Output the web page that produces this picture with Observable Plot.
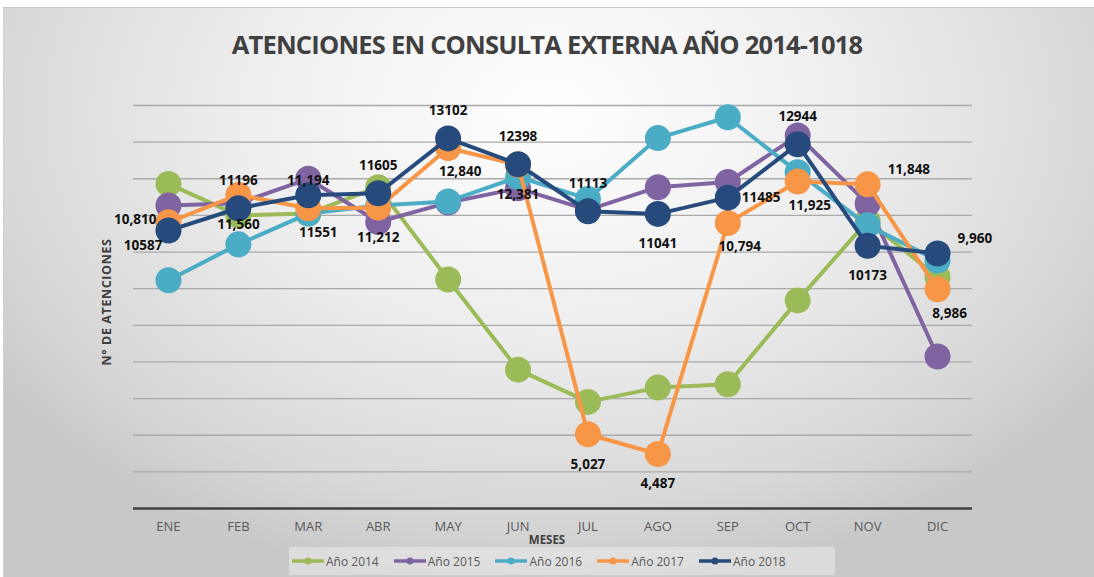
<!DOCTYPE html>
<html><head><meta charset="utf-8">
<script src="https://cdn.jsdelivr.net/npm/d3@7"></script>
<script src="https://cdn.jsdelivr.net/npm/@observablehq/plot@0.6"></script>
<style>
html,body{margin:0;padding:0;background:#ffffff;}
body{width:1094px;height:577px;overflow:hidden;font-family:"Open Sans",sans-serif;}
#wrap{position:relative;width:1094px;height:577px;}
#bg{position:absolute;left:3px;top:7px;right:0;bottom:0;border-top:1px solid #c8c8c8;border-left:1px solid #d0d0d0;
 background:radial-gradient(ellipse 62% 85% at 50% 18%, #ffffff 0%, #eeeeee 45%, #d8d8d8 82%, #c8c8c8 100%);}
#title{position:absolute;left:0;width:1094px;top:27px;text-align:center;font-weight:700;font-size:25.5px;color:#404040;letter-spacing:-0.8px;white-space:nowrap;}
#chart{position:absolute;left:0;top:0;}
#ylab{position:absolute;left:106px;top:302px;transform:translate(-50%,-50%) rotate(-90deg);font-weight:700;font-size:12.5px;letter-spacing:0.6px;color:#404040;white-space:nowrap;}
#xlab{position:absolute;left:547px;top:539px;transform:translate(-50%,-50%);font-weight:700;font-size:11.5px;color:#404040;}
#legend{position:absolute;left:289px;top:547px;width:546px;height:28px;background:rgba(255,255,255,0.35);display:flex;align-items:center;padding-left:3px;box-sizing:border-box;}
.item{display:flex;align-items:center;margin-right:15px;font-size:12px;color:#595959;}
.item svg{margin-right:2px;}
</style></head>
<body><div id="wrap">
<div id="bg"></div>
<div id="title">ATENCIONES EN CONSULTA EXTERNA AÑO 2014-1018</div>
<div id="chart"></div>
<div id="ylab">N° DE ATENCIONES</div>
<div id="xlab">MESES</div>
<div id="legend"></div>
</div>
<script>
const months = ["ENE","FEB","MAR","ABR","MAY","JUN","JUL","AGO","SEP","OCT","NOV","DIC"];
const series = ["Año 2014","Año 2015","Año 2016","Año 2017","Año 2018"];
const colors = ["#9bbb59","#8064a2","#4bacc6","#f79646","#264a7c"];
const v2014 = [11860, 11000, 11050, 11770, 9250, 6790, 5910, 6300, 6390, 8680, 10850, 9320];
const v2015 = [11270, 11330, 12000, 10820, 11350, 11740, 11150, 11770, 11910, 13180, 11320, 7150];
const v2016 = [9230, 10210, 11050, 11270, 11380, 12050, 11450, 13110, 13680, 12180, 10730, 9770];
const v2017 = [10810, 11560, 11194, 11212, 12840, 12381, 5027, 4487, 10794, 11925, 11848, 8986];
const v2018 = [10587, 11196, 11551, 11605, 13102, 12398, 11113, 11041, 11485, 12944, 10173, 9960];
const values = [v2014, v2015, v2016, v2017, v2018];
const gridTicks = [4000,5000,6000,7000,8000,9000,10000,11000,12000,13000,14000];
// label placement (side of the point) for the labelled series
const labelPos2017 = ["w","s","n","s","se","s","s","s","se","se","ne","se"];
const labelPos2018 = ["sw","n","sse","n","n","n","n","s","e","n","s","ne"];

const rows = series.map((s,k)=> months.map((m,i)=>({series:s, month:m, value:values[k][i]})));
const fmtComma = d3.format(",");
const labels = [
  ...months.map((m,i)=>({month:m, value:v2017[i], text:fmtComma(v2017[i]), pos:labelPos2017[i]})),
  ...months.map((m,i)=>({month:m, value:v2018[i], text:v2018[i] >= 10000 ? String(v2018[i]) : fmtComma(v2018[i]), pos:labelPos2018[i]}))
];
const offsets = {
  n:{dx:0,dy:-28,a:"middle"}, s:{dx:0,dy:30,a:"middle"}, se:{dx:12,dy:24,a:"middle"}, sse:{dx:10,dy:37,a:"middle"},
  e:{dx:14,dy:0,a:"start"}, ne:{dx:20,dy:-15,a:"start"}, w:{dx:-12,dy:-3,a:"end"}, sw:{dx:-6,dy:15,a:"end"}
};

const marks = [
  Plot.ruleY(gridTicks, {stroke:"#a9a9a9", strokeWidth:1.3}),
  Plot.ruleY([3000], {stroke:"#404040", strokeWidth:2.6}),
  Plot.axisX({tickSize:0, tickPadding:13, fontSize:13, fill:"#595959", label:null}),
];
rows.forEach((r,k)=>{
  marks.push(Plot.line(r, {x:"month", y:"value", stroke:colors[k], strokeWidth:4}));
  marks.push(Plot.dot(r, {x:"month", y:"value", r:13, fill:colors[k], stroke:null}));
});
Object.entries(offsets).forEach(([key,o])=>{
  marks.push(Plot.text(labels.filter(d=>d.pos===key), {x:"month", y:"value", text:"text", dx:o.dx, dy:o.dy, textAnchor:o.a,
    fontSize:13.5, fontWeight:700, fill:"#111111"}));
});

const chart = Plot.plot({
  width:1094, height:577,
  marginTop:105, marginBottom:69, marginLeft:133, marginRight:122,
  style:{background:"transparent", fontFamily:"Open Sans, sans-serif", overflow:"visible"},
  x:{type:"point", domain:months, padding:0.5, round:false, axis:null},
  y:{domain:[3000,14000], axis:null},
  marks
});
document.getElementById("chart").appendChild(chart);

const legend = document.getElementById("legend");
series.forEach((s,k)=>{
  const it = document.createElement("div");
  it.className = "item";
  it.innerHTML = `<svg width="32" height="10"><line x1="0" x2="32" y1="5" y2="5" stroke="${colors[k]}" stroke-width="3.5"/><circle cx="16" cy="5" r="3.5" fill="${colors[k]}"/></svg><span>${s}</span>`;
  legend.appendChild(it);
});
</script>
</body></html>
